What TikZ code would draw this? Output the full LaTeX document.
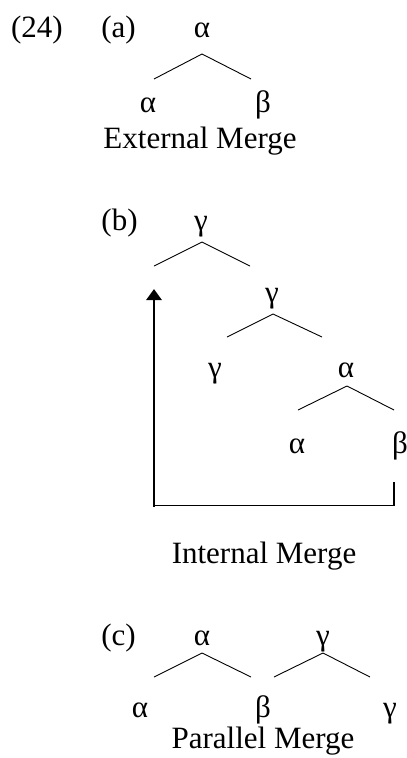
\documentclass[tikz,border=0pt]{standalone}
\usepackage{fontspec}
\setmainfont{Liberation Serif}
\usetikzlibrary{arrows.meta}
\begin{document}
\begin{tikzpicture}[x=1pt,y=-1pt,
  lbl/.style={anchor=base,inner sep=0pt,font=\fontsize{31}{36}\selectfont},
  branch/.style={line width=0.9pt},
  moveline/.style={line width=1.1pt},
  movearrow/.style={line width=2.8pt,-{Triangle[width=15pt,length=11pt]}}]
\useasboundingbox (0,0) rectangle (407,758);
% (a)
\node[lbl] (n24) at (37,37) {(24)};
\node[lbl] (la) at (118.5,37) {(a)};
\node[lbl] (a0) at (202,37) {α};
\node[lbl] (a1) at (148,112) {α};
\node[lbl] (a2) at (263,112) {β};
\node[lbl] (ext) at (200,148) {External Merge};
\coordinate (aA) at (202,54); \coordinate (aL) at (154,79); \coordinate (aR) at (251,79);
\draw[branch] (aL) -- (aA) -- (aR);
% (b)
\node[lbl] (lb) at (119.5,230) {(b)};
\node[lbl] (b0) at (201,230) {γ};
\coordinate (bA) at (202,242); \coordinate (bL) at (154,266); \coordinate (bR) at (250,266);
\draw[branch] (bL) -- (bA) -- (bR);
\node[lbl] (b1) at (272,302) {γ};
\coordinate (cA) at (273,314); \coordinate (cL) at (227,337); \coordinate (cR) at (322,337);
\draw[branch] (cL) -- (cA) -- (cR);
\node[lbl] (b2) at (215,377) {γ};
\node[lbl] (b3) at (346,377) {α};
\coordinate (dA) at (347,386); \coordinate (dL) at (298,410); \coordinate (dR) at (394,410);
\draw[branch] (dL) -- (dA) -- (dR);
\node[lbl] (b4) at (297,453) {α};
\node[lbl] (b5) at (400,453) {β};
\coordinate (mS) at (394,482); \coordinate (mC) at (394,505.5);
\coordinate (mD) at (154,505.5); \coordinate (mT) at (154,289);
\draw[moveline] (mS) -- (mC) -- (mD);
\draw[movearrow] (154,506.5) -- (mT);
\node[lbl] (int) at (264,563) {Internal Merge};
% (c)
\node[lbl] (lc) at (118.5,645) {(c)};
\node[lbl] (c0) at (202,645) {α};
\node[lbl] (c1) at (323,645) {γ};
\coordinate (eA) at (202,653); \coordinate (eL) at (154,677); \coordinate (eR) at (251,677);
\draw[branch] (eL) -- (eA) -- (eR);
\coordinate (fA) at (323,653); \coordinate (fL) at (274,677); \coordinate (fR) at (370,677);
\draw[branch] (fL) -- (fA) -- (fR);
\node[lbl] (c2) at (140,717) {α};
\node[lbl] (c3) at (263,717) {β};
\node[lbl] (c4) at (390,717) {γ};
\node[lbl] (par) at (263,748) {Parallel Merge};
\end{tikzpicture}
\end{document}
